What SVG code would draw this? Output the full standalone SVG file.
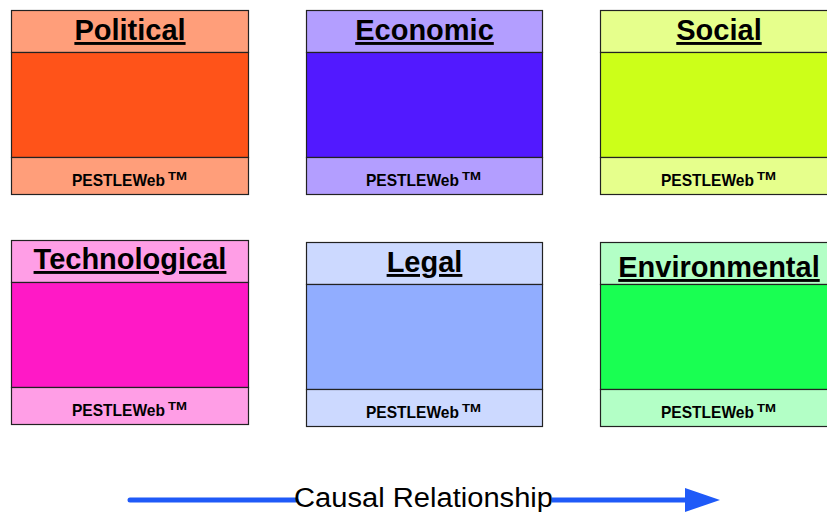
<svg xmlns="http://www.w3.org/2000/svg" width="827" height="512" viewBox="0 0 827 512">
<style>
.box{stroke:#222;stroke-width:1.2}
.title{font-family:"Liberation Sans",Arial,sans-serif;font-weight:bold;font-size:29px;text-decoration:underline;text-anchor:middle;fill:#000}
.foot{font-family:"Liberation Sans",Arial,sans-serif;font-weight:bold;font-size:17px;fill:#000}
.tm{font-family:"Liberation Sans",Arial,sans-serif;font-weight:bold;font-size:11px;fill:#000}
.cap{font-family:"Liberation Sans",Arial,sans-serif;font-size:27px;fill:#000}
</style>
<rect width="827" height="512" fill="#fff"/>
<g id="political">
<rect class="box" x="11.5" y="10.5" width="237" height="42" fill="#FF9E7A"/>
<rect class="box" x="11.5" y="52.5" width="237" height="105" fill="#FF5319"/>
<rect class="box" x="11.5" y="157.5" width="237" height="37" fill="#FF9E7A"/>
<text class="title" x="130" y="40">Political</text>
<text class="foot" x="72" y="186" textLength="93" lengthAdjust="spacingAndGlyphs">PESTLEWeb</text>
<text class="tm" x="168" y="180" textLength="19" lengthAdjust="spacingAndGlyphs">TM</text>
</g>
<g id="economic">
<rect class="box" x="306.5" y="10.5" width="236" height="42" fill="#B39EFF"/>
<rect class="box" x="306.5" y="52.5" width="236" height="105" fill="#5219FF"/>
<rect class="box" x="306.5" y="157.5" width="236" height="37" fill="#B39EFF"/>
<text class="title" x="424.5" y="40">Economic</text>
<text class="foot" x="366" y="186" textLength="93" lengthAdjust="spacingAndGlyphs">PESTLEWeb</text>
<text class="tm" x="462" y="180" textLength="19" lengthAdjust="spacingAndGlyphs">TM</text>
</g>
<g id="social">
<rect class="box" x="600.5" y="10.5" width="236" height="42" fill="#E6FF8C"/>
<rect class="box" x="600.5" y="52.5" width="236" height="105" fill="#CCFF19"/>
<rect class="box" x="600.5" y="157.5" width="236" height="37" fill="#E6FF8C"/>
<text class="title" x="719" y="40">Social</text>
<text class="foot" x="661" y="186" textLength="93" lengthAdjust="spacingAndGlyphs">PESTLEWeb</text>
<text class="tm" x="757" y="180" textLength="19" lengthAdjust="spacingAndGlyphs">TM</text>
</g>
<g id="technological">
<rect class="box" x="11.5" y="240.5" width="237" height="42" fill="#FF9EE6"/>
<rect class="box" x="11.5" y="282.5" width="237" height="105" fill="#FF19C6"/>
<rect class="box" x="11.5" y="387.5" width="237" height="37" fill="#FF9EE6"/>
<text class="title" x="130" y="269">Technological</text>
<text class="foot" x="72" y="416" textLength="93" lengthAdjust="spacingAndGlyphs">PESTLEWeb</text>
<text class="tm" x="168" y="410" textLength="19" lengthAdjust="spacingAndGlyphs">TM</text>
</g>
<g id="legal">
<rect class="box" x="306.5" y="242.5" width="236" height="42" fill="#CCD9FF"/>
<rect class="box" x="306.5" y="284.5" width="236" height="105" fill="#91ADFF"/>
<rect class="box" x="306.5" y="389.5" width="236" height="37" fill="#CCD9FF"/>
<text class="title" x="424.5" y="272">Legal</text>
<text class="foot" x="366" y="418" textLength="93" lengthAdjust="spacingAndGlyphs">PESTLEWeb</text>
<text class="tm" x="462" y="412" textLength="19" lengthAdjust="spacingAndGlyphs">TM</text>
</g>
<g id="environmental">
<rect class="box" x="600.5" y="242.5" width="236" height="42" fill="#B3FFC6"/>
<rect class="box" x="600.5" y="284.5" width="236" height="105" fill="#19FF52"/>
<rect class="box" x="600.5" y="389.5" width="236" height="37" fill="#B3FFC6"/>
<text class="title" x="719" y="277">Environmental</text>
<text class="foot" x="661" y="418" textLength="93" lengthAdjust="spacingAndGlyphs">PESTLEWeb</text>
<text class="tm" x="757" y="412" textLength="19" lengthAdjust="spacingAndGlyphs">TM</text>
</g>
<g id="connectors">
<line x1="130" y1="500" x2="296" y2="500" stroke="#1F5AF8" stroke-width="5" stroke-linecap="round"/>
<line x1="552" y1="500" x2="688" y2="500" stroke="#1F5AF8" stroke-width="5"/>
<polygon points="685,488 720,500 685,512" fill="#1F5AF8"/>
<text class="cap" x="294" y="507" textLength="259" lengthAdjust="spacingAndGlyphs">Causal Relationship</text>
</g>
</svg>
